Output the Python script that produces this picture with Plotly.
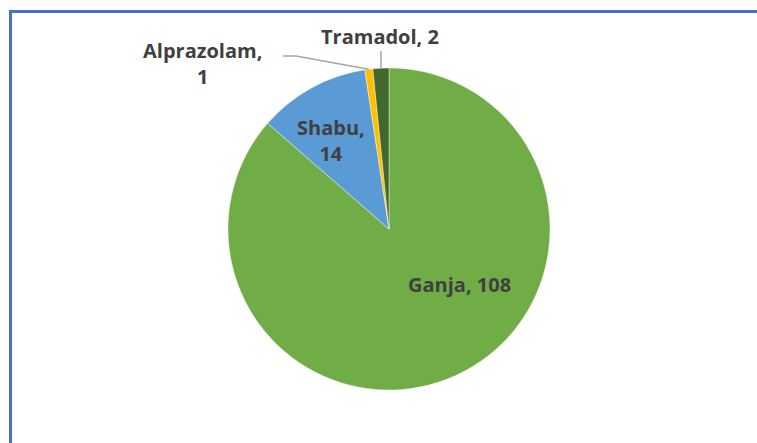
import math
import plotly.graph_objects as go

labels = ["Ganja", "Shabu", "Alprazolam", "Tramadol"]
values = [108, 14, 1, 2]
colors = ["#70AD47", "#5B9BD5", "#FFC000", "#43682B"]

W, H = 757, 443
# pie geometry in window pixels
cx, cy, r = 389, 229, 161


def px(x):
    return x / W


def py(y):
    return 1 - y / H


fig = go.Figure(go.Pie(
    labels=labels, values=values, sort=False, direction="clockwise", rotation=0,
    marker=dict(colors=colors, line=dict(color="white", width=0.4)),
    textinfo="none", hoverinfo="label+value", showlegend=False,
    domain=dict(x=[px(cx - r), px(cx + r)], y=[py(cy + r), py(cy - r)]),
))

# mid-angle point of each slice on the rim (pixels)
total = sum(values)
rim = []
cum = 0
for v in values:
    mid = (cum + v / 2) / total * 2 * math.pi
    rim.append((cx + r * math.sin(mid), cy - r * math.cos(mid)))
    cum += v

font = dict(family="Open Sans", size=20, color="#404040")
label_pos = {
    "Ganja": (459, 284, False),
    "Shabu": (331, 141, True),
    "Alprazolam": (202, 64, True),
    "Tramadol": (380, 37, False),
}
annotations = []
for lab, val in zip(labels, values):
    x, y, br = label_pos[lab]
    txt = f"<b>{lab},{'<br>' if br else ' '}{val}</b>"
    annotations.append(dict(x=px(x), y=py(y), xref="paper", yref="paper", text=txt,
                            showarrow=False, font=font, align="center",
                            xanchor="center", yanchor="middle"))

shapes = []
# leader lines
ax, ay = rim[2]
shapes.append(dict(type="path", xref="paper", yref="paper",
                   path=f"M {px(283)},{py(56)} L {px(296)},{py(56)} L {px(ax)},{py(ay)}",
                   line=dict(color="#A6A6A6", width=1.5)))
tx, ty = rim[3]
shapes.append(dict(type="line", xref="paper", yref="paper",
                   x0=px(tx), y0=py(51), x1=px(tx), y1=py(ty),
                   line=dict(color="#A6A6A6", width=1.5)))
# chart frame
shapes.append(dict(type="rect", xref="paper", yref="paper",
                   x0=px(10.5), y0=py(11.5), x1=px(800), y1=py(500),
                   line=dict(color="#4472C4", width=3), fillcolor="rgba(0,0,0,0)"))

fig.update_layout(width=W, height=H, margin=dict(l=0, r=0, t=0, b=0),
                  paper_bgcolor="white", plot_bgcolor="white",
                  annotations=annotations, shapes=shapes)
fig.write_html("out.html", config=dict(displayModeBar=False),
               post_script="document.body.style.margin='0';document.body.style.overflow='hidden';")
